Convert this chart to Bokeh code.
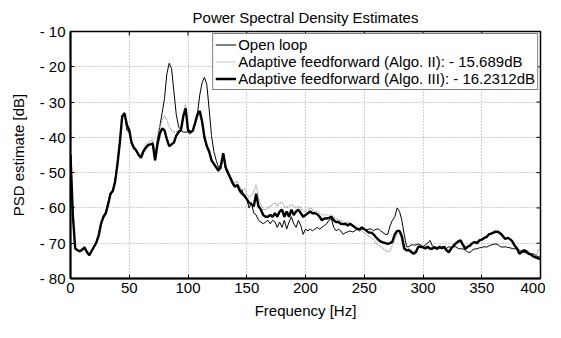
from bokeh.plotting import figure
from bokeh.models import Range1d, FixedTicker, Legend, LegendItem
from bokeh.embed import file_html
from bokeh.resources import INLINE

title = "Power Spectral Density Estimates"
x_label = "Frequency [Hz]"
y_label = "PSD estimate [dB]"
names = ["Open loop",
         "Adaptive feedforward (Algo. II): - 15.689dB",
         "Adaptive feedforward (Algo. III): - 16.2312dB"]

x_ticks = [0, 50, 100, 150, 200, 250, 300, 350, 400]
y_ticks = [-80, -70, -60, -50, -40, -30, -20, -10]
y_tick_labels = ["- 80", "- 70", "- 60", "- 50", "- 40", "- 30", "- 20", "- 10"]

freq = list(range(0, 401, 2))

open_loop = [
    -45, -62, -71.5, -71.8, -72.2, -72.0, -71.0, -72.8, -73.5, -72.0,
    -70.8, -69.5, -67.5, -64.0, -63.0, -61.0, -58.5, -56.5, -55.0, -52.0,
    -47.0, -41.0, -34.5, -33.0, -38.0, -38.5, -41.5, -43.0, -43.5, -45.0,
    -45.8, -44.0, -43.0, -42.5, -42.0, -41.5, -46.5, -40.5, -37.0, -33.0,
    -29.0, -22.0, -19.0, -20.5, -27.0, -33.5, -37.0, -38.0, -38.5, -38.5,
    -38.5, -39.0, -38.0, -36.0, -33.5, -28.0, -24.5, -23.0, -25.0, -32.0,
    -39.5, -44.0, -46.5, -48.5, -49.0, -44.5, -49.0, -50.5, -51.0, -53.0,
    -54.0, -53.5, -55.5, -55.0, -57.0, -57.5, -60.0, -58.5, -61.5, -62.0,
    -63.5, -64.0, -64.5, -64.0, -63.5, -64.5, -63.5, -64.0, -65.5, -64.0,
    -65.5, -63.5, -66.0, -64.0, -62.5, -64.5, -65.5, -63.5, -65.0, -67.5,
    -66.0, -66.5, -66.0, -66.5, -66.0, -65.5, -66.0, -65.5, -65.0, -64.5,
    -63.5, -63.0, -65.5, -66.5, -66.0, -66.5, -67.5, -67.0, -66.8, -66.5,
    -66.8, -66.5, -66.0, -66.5, -66.0, -66.0, -66.2, -66.0, -66.0, -66.5,
    -66.0, -66.0, -66.5, -67.0, -67.5, -67.5, -65.0, -63.5, -62.5, -60.0,
    -61.0, -63.5, -67.5, -71.0, -71.0, -70.5, -70.5, -70.5, -70.2, -70.5,
    -71.0, -70.5, -70.0, -69.2, -70.8, -71.0, -71.2, -71.5, -71.0, -71.5,
    -71.5, -71.0, -71.2, -71.0, -71.0, -71.5, -71.6, -71.6, -72.0, -72.5,
    -72.6, -72.0, -71.6, -71.6, -71.3, -71.2, -71.0, -71.1, -70.8, -70.5,
    -70.3, -70.2, -70.5, -71.0, -71.1, -71.0, -71.2, -71.3, -71.5, -71.6,
    -71.6, -72.0, -72.3, -72.6, -72.8, -73.0, -73.0, -73.0, -73.5, -73.8,
    -74.0,
]

algo2 = [
    -45, -62, -71.5, -71.8, -72.0, -72.2, -71.3, -72.6, -73.3, -72.0,
    -70.9, -69.6, -67.4, -64.2, -62.8, -61.2, -58.8, -56.3, -55.0, -52.2,
    -47.2, -41.0, -34.5, -34.0, -37.5, -38.5, -41.0, -42.5, -43.2, -44.5,
    -45.0, -43.5, -42.0, -41.5, -41.0, -40.5, -45.0, -40.0, -37.0, -35.0,
    -34.0, -35.0, -37.0, -38.0, -38.5, -38.5, -38.0, -37.0, -33.5, -30.5,
    -37.0, -38.5, -38.0, -36.5, -34.5, -33.5, -36.0, -39.5, -42.0, -43.5,
    -46.0, -47.5, -48.5, -49.0, -48.0, -45.0, -48.5, -49.5, -51.0, -52.0,
    -53.0, -52.5, -54.0, -55.0, -54.5, -56.0, -57.0, -56.5, -55.5, -53.5,
    -57.0, -59.0, -60.5, -60.5, -60.0, -59.5, -59.0, -58.5, -59.5, -58.5,
    -58.5, -59.5, -60.0, -59.5, -59.0, -59.5, -60.0, -59.5, -60.0, -61.0,
    -61.0, -60.5, -60.0, -60.5, -61.0, -61.0, -61.5, -62.0, -62.0, -62.0,
    -62.0, -62.0, -62.5, -63.0, -63.5, -63.5, -64.0, -64.5, -64.0, -64.5,
    -65.0, -65.0, -65.5, -66.0, -66.5, -67.0, -67.5, -68.0, -68.5, -69.0,
    -70.0, -70.5, -71.0, -71.5, -72.0, -72.5, -72.0, -70.5, -69.0, -67.5,
    -67.0, -69.0, -71.0, -72.0, -71.5, -72.0, -72.5, -72.0, -71.0, -70.5,
    -71.0, -71.0, -71.2, -71.5, -71.0, -71.5, -71.2, -71.5, -71.0, -71.5,
    -71.8, -72.0, -71.5, -70.5, -70.0, -70.0, -69.5, -70.0, -71.0, -71.0,
    -70.5, -70.0, -69.5, -69.5, -69.0, -68.8, -68.5, -68.0, -67.5, -67.0,
    -66.8, -66.5, -66.5, -67.0, -67.5, -68.5, -68.5, -69.0, -69.5, -70.5,
    -71.0, -72.0, -72.0, -71.8, -72.0, -72.5, -73.0, -73.5, -74.0, -72.0,
    -71.0,
]

algo3 = [
    -45, -62, -71.5, -72.0, -72.3, -71.8, -71.2, -72.5, -73.4, -72.2,
    -71.0, -69.8, -67.8, -64.5, -62.5, -61.5, -59.0, -56.0, -55.2, -52.5,
    -47.5, -41.5, -34.0, -33.2, -36.5, -38.0, -41.5, -43.0, -43.8, -45.0,
    -45.8, -44.0, -43.0, -42.2, -42.0, -41.8, -46.5, -42.0, -39.0, -37.5,
    -38.0, -40.5, -42.5, -42.0, -41.5, -39.5, -38.5, -38.0, -34.0, -31.8,
    -38.0, -38.5, -38.2, -36.0, -33.5, -32.5, -35.5, -40.0, -42.5, -44.0,
    -46.5, -47.5, -48.5, -49.5, -48.0, -44.5, -48.5, -50.0, -51.5, -53.0,
    -54.0, -53.5, -55.0, -56.0, -56.5, -57.5, -58.5, -59.0, -59.5, -56.0,
    -59.5, -60.5, -62.0, -62.5, -62.5, -62.0, -62.5, -61.5, -62.5, -61.0,
    -60.5, -62.5, -61.0, -62.5, -60.5, -62.0, -61.0, -60.5, -61.5, -62.5,
    -62.0, -61.5, -61.0, -61.5, -61.5, -61.8, -62.5, -63.5, -63.0, -63.0,
    -62.8, -62.5, -63.5, -64.0, -64.0, -64.5, -64.6, -64.5, -65.0, -64.5,
    -65.0, -65.5, -66.0, -66.0, -65.5, -66.0, -66.5, -67.0, -67.0, -67.5,
    -68.3, -69.0, -69.5, -69.8, -70.0, -70.2, -70.0, -69.5, -67.5, -66.5,
    -66.5, -68.0, -71.5, -72.0, -72.0, -72.5, -73.0, -72.5, -71.0, -71.0,
    -71.2, -71.5, -71.0, -71.6, -71.5, -71.2, -71.6, -71.0, -71.4, -71.0,
    -72.0, -72.6, -71.5, -70.7, -70.0, -69.5, -69.2, -70.5, -71.6, -71.0,
    -70.7, -70.0, -69.7, -70.0, -69.2, -69.0, -68.5, -68.3, -67.5, -67.3,
    -67.0, -66.7, -66.8, -67.3, -68.0, -68.8, -68.5, -68.8, -69.5, -70.7,
    -71.5, -73.0, -72.5, -72.0, -72.3, -73.0, -73.2, -73.8, -74.0, -74.3,
    -74.5,
]

FONT = "Liberation Sans"
FS = "15px"
X0, X1, Y0, Y1 = 0, 400, -80, -10

p = figure(width=545, height=322, output_backend="svg", toolbar_location=None,
           x_range=Range1d(X0, X1), y_range=Range1d(Y0, Y1),
           min_border_left=70, min_border_right=5, min_border_top=0,
           min_border_bottom=44, background_fill_color="white",
           border_fill_color="white")

p.title.text = title
p.title.text_font = FONT
p.title.text_font_size = FS
p.title.text_font_style = "normal"
p.title.align = "center"
p.title.text_color = "black"
p.title.standoff = 12

# grid
p.xgrid.ticker = FixedTicker(ticks=x_ticks)
p.ygrid.ticker = FixedTicker(ticks=y_ticks)
for g in (p.xgrid[0], p.ygrid[0]):
    g.grid_line_color = "#a0a0a0"
    g.grid_line_dash = "1 2"
    g.grid_line_width = 1

# inward tick marks on the top and right edges (box on)
tx = 3.4 * (X1 - X0) / 400
ty = 1.15 * (Y1 - Y0) / 70
p.segment(x0=x_ticks, y0=[Y1] * len(x_ticks), x1=x_ticks,
          y1=[Y1 - ty] * len(x_ticks), line_color="black", line_width=1)
p.segment(x0=[X1] * len(y_ticks), y0=y_ticks, x1=[X1 - tx] * len(y_ticks),
          y1=y_ticks, line_color="black", line_width=1)

r1 = p.line(freq, open_loop, line_color="black", line_width=1)
r2 = p.line(freq, algo2, line_color="#8c8c8c", line_width=1.2, line_dash="1 1")
r3 = p.line(freq, algo3, line_color="black", line_width=2.4)

for ax in (p.xaxis[0], p.yaxis[0]):
    ax.major_label_text_font = FONT
    ax.major_label_text_font_size = FS
    ax.major_label_text_color = "black"
    ax.axis_label_text_font = FONT
    ax.axis_label_text_font_size = FS
    ax.axis_label_text_font_style = "normal"
    ax.axis_label_text_color = "black"
    ax.axis_line_width = 2
    ax.axis_line_color = "black"
    ax.major_tick_in = 4
    ax.major_tick_out = 0
    ax.minor_tick_in = 0
    ax.minor_tick_out = 0

p.xaxis[0].ticker = FixedTicker(ticks=x_ticks)
p.yaxis[0].ticker = FixedTicker(ticks=y_ticks)
p.yaxis[0].major_label_overrides = {t: s for t, s in zip(y_ticks, y_tick_labels)}
p.xaxis[0].axis_label = x_label
p.yaxis[0].axis_label = y_label
p.xaxis[0].major_label_standoff = 4
p.xaxis[0].axis_label_standoff = 6
p.yaxis[0].major_label_standoff = 5
p.yaxis[0].axis_label_standoff = 10

p.outline_line_color = "black"
p.outline_line_width = 1.5

legend = Legend(items=[LegendItem(label=names[0], renderers=[r1]),
                       LegendItem(label=names[1], renderers=[r2]),
                       LegendItem(label=names[2], renderers=[r3])],
                location="top_right")
legend.label_text_font = FONT
legend.label_text_font_size = FS
legend.label_text_color = "black"
legend.border_line_color = "black"
legend.border_line_width = 1.5
legend.background_fill_color = "white"
legend.background_fill_alpha = 1
legend.glyph_width = 21
legend.glyph_height = 17
legend.label_height = 17
legend.label_standoff = 2
legend.spacing = 0
legend.padding = 2
legend.margin = 2
p.add_layout(legend)

open("out.html", "w").write(file_html(p, INLINE))
